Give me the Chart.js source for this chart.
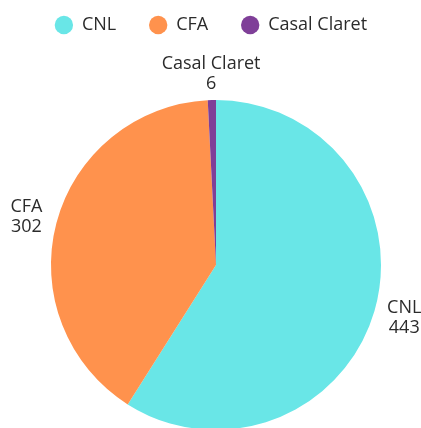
<!DOCTYPE html>
<html>
<head>
<meta charset="utf-8">
<script src="https://cdn.jsdelivr.net/npm/chart.js@4/dist/chart.umd.min.js"></script>
<style>
  html, body { margin: 0; padding: 0; background: #ffffff; overflow: hidden; }
  #wrap { width: 421px; height: 428px; overflow: hidden; position: relative; }
  canvas { display: block; }
</style>
</head>
<body>
<div id="wrap"><canvas id="c" width="421" height="430"></canvas></div>
<script>
const categories = ['CNL', 'CFA', 'Casal Claret'];
const values = [443, 302, 6];
const sliceColors = ['#69e6e7', '#ff924d', '#7f3f98'];

const FONT = '"Open Sans", "Noto Sans", sans-serif';
const TEXT_COLOR = '#2b2b2b';

const outerLabels = {
  id: 'outerLabels',
  afterDatasetsDraw(chart) {
    const ctx = chart.ctx;
    const meta = chart.getDatasetMeta(0);
    ctx.save();
    ctx.font = '18px ' + FONT;
    ctx.fillStyle = TEXT_COLOR;
    ctx.textAlign = 'center';
    ctx.textBaseline = 'middle';
    meta.data.forEach((arc, i) => {
      const p = arc.getProps(['x', 'y', 'startAngle', 'endAngle', 'outerRadius'], true);
      const mid = (p.startAngle + p.endAngle) / 2;
      const cx = p.x + Math.cos(mid) * (p.outerRadius + 31);
      const cy = p.y + Math.sin(mid) * (p.outerRadius + 26);
      ctx.fillText(categories[i], cx, cy - 10);
      ctx.fillText(String(values[i]), cx, cy + 10);
    });
    ctx.restore();
  }
};

const legendTweak = {
  id: 'legendTweak',
  beforeLayout(chart) {
    const lg = chart.legend;
    if (lg && !lg._patched) {
      const origFit = lg.fit;
      lg.fit = function () {
        origFit.call(this);
        this.height = 117;
      };
      lg._patched = true;
    }
  },
  afterLayout(chart) {
    const lg = chart.legend;
    if (lg) { lg.left -= 5; lg.right -= 5; }
  }
};

new Chart(document.getElementById('c'), {
  type: 'pie',
  data: {
    labels: categories,
    datasets: [{
      data: values,
      backgroundColor: sliceColors,
      borderWidth: 0
    }]
  },
  options: {
    responsive: false,
    animation: false,
    devicePixelRatio: 1,
    layout: { padding: { top: -17, left: 11, right: 0, bottom: 0 } },
    plugins: {
      legend: {
        position: 'top',
        labels: {
          usePointStyle: true,
          pointStyle: 'circle',
          boxWidth: 18,
          boxHeight: 13,
          padding: 33,
          color: TEXT_COLOR,
          font: { family: FONT, size: 18 }
        }
      },
      tooltip: { enabled: false }
    }
  },
  plugins: [outerLabels, legendTweak]
});
</script>
</body>
</html>
